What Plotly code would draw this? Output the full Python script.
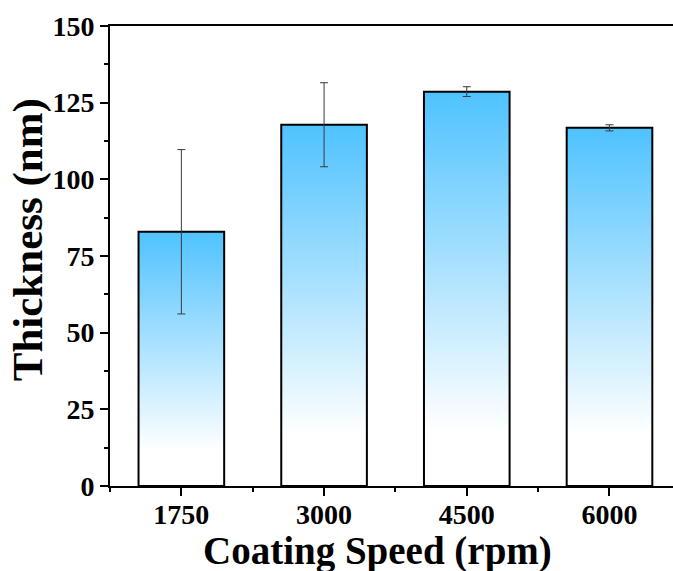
import plotly.graph_objects as go

categories = ["1750", "3000", "4500", "6000"]
thickness = [82.9, 117.8, 128.6, 116.8]
errors = [26.8, 13.7, 1.6, 1.0]
y_ticks = [0, 25, 50, 75, 100, 125, 150]
x_title = "Coating Speed (rpm)"
y_title = "Thickness (nm)"

positions = list(range(len(categories)))
bar_width = 0.6
half = bar_width / 2

FONT = "Liberation Serif, Times New Roman, serif"
TOP_BLUE = "#4FC2FF"

fig = go.Figure()

# gradient-filled bars with black outline (one polygon per bar, spanning 0..value)
for p, v in zip(positions, thickness):
    fig.add_trace(go.Scatter(
        x=[p - half, p - half, p + half, p + half, p - half],
        y=[0, v, v, 0, 0],
        mode="lines",
        line=dict(width=2, color="black"),
        fill="toself",
        fillgradient=dict(type="vertical",
                          colorscale=[[0, "#FFFFFF"], [0.14, "#FFFFFF"], [1, TOP_BLUE]]),
        hoverinfo="skip",
        showlegend=False,
    ))

# error bars (drawn above the fills)
fig.add_trace(go.Scatter(
    x=positions,
    y=thickness,
    mode="markers",
    marker=dict(size=1, opacity=0),
    error_y=dict(type="data", array=errors, visible=True,
                 color="#3a3a3a", thickness=1, width=4),
    showlegend=False,
))

fig.update_layout(
    width=673, height=571,
    margin=dict(l=110, r=0, t=26, b=85),
    plot_bgcolor="white", paper_bgcolor="white",
    font=dict(family=FONT, color="black"),
    showlegend=False,
    annotations=[
        dict(text=x_title, xref="paper", yref="paper", x=0.476, y=-0.141,
             xanchor="center", yanchor="middle", showarrow=False,
             font=dict(family=FONT, size=39, weight="bold", color="black")),
        dict(text=y_title, xref="paper", yref="paper", x=-0.145, y=0.535,
             xanchor="center", yanchor="middle", showarrow=False, textangle=-90,
             font=dict(family=FONT, size=43, weight="bold", color="black")),
    ],
)

fig.update_xaxes(
    range=[-0.5, 3.445],
    tickmode="array", tickvals=positions, ticktext=categories,
    ticks="outside", ticklen=8, tickwidth=2, tickcolor="black",
    ticklabelstandoff=-6,
    minor=dict(tickmode="array", tickvals=[-0.5, 0.5, 1.5, 2.5, 3.5],
               ticks="outside", ticklen=4, tickwidth=2, tickcolor="black"),
    showline=True, linewidth=2, linecolor="black", mirror=True,
    showgrid=False, zeroline=False,
    tickfont=dict(family=FONT, size=28, weight="bold"),
)

fig.update_yaxes(
    range=[0, 150],
    tickmode="array", tickvals=y_ticks,
    ticks="outside", ticklen=8, tickwidth=2, tickcolor="black",
    minor=dict(dtick=12.5, tick0=0, ticks="outside", ticklen=4, tickwidth=2, tickcolor="black"),
    showline=True, linewidth=2, linecolor="black", mirror=False,
    showgrid=False, zeroline=False,
    tickfont=dict(family=FONT, size=28, weight="bold"),
)

fig.write_html("out.html")
